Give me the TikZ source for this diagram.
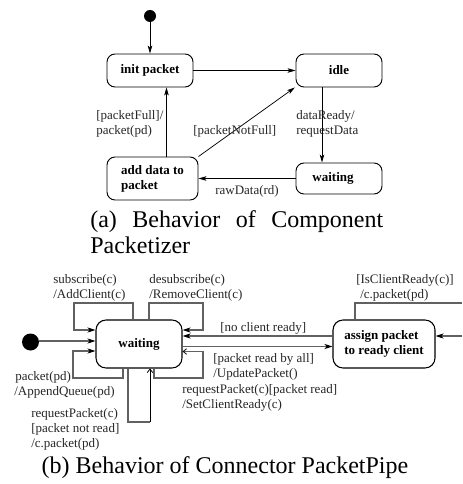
\documentclass[tikz,border=0pt]{standalone}
\usepackage{fontspec}
\setmainfont{Liberation Serif}
\usetikzlibrary{arrows.meta}
\newcommand\lblfont{\fontsize{9.75}{11.25}\selectfont}
\newcommand\capfont{\fontsize{18}{18.75}\selectfont}
\begin{document}
\begin{tikzpicture}[x=0.75pt,y=-0.75pt,
  statebox/.style={draw=black, line width=0.7pt, rounded corners=6pt,
    font=\lblfont\bfseries, inner sep=0pt, align=left},
  % multi-line labels are placed by the baseline of their last line
  lbl/.style={font=\lblfont, text=black!85, inner sep=0pt, anchor=base west, align=left},
  initdot/.style={circle, fill=black, inner sep=0pt},
  tarr/.style={draw=black, line width=0.55pt,
    -{Stealth[length=6pt,width=3.4pt,inset=1.6pt]}},
  barr/.style={draw=black!62, line width=0.9pt,
    -{Stealth[length=6pt,width=3.8pt,inset=1.6pt,black]}},
  bline/.style={draw=black!62, line width=0.9pt},
  oarr/.style={draw=black!62, line width=0.9pt,
    -{Straight Barb[length=2.6pt,width=4.2pt,black,line width=0.6pt]}}]
\useasboundingbox (0,0) rectangle (462,484);

% ---------- (a) component Packetizer ----------
\node[initdot, minimum size=9pt] (startA) at (150,16) {};
\node[statebox, minimum width=64.5pt, minimum height=24.75pt] (init) at (150,70.5) {init packet};
\node[statebox, minimum width=64.5pt, minimum height=24.75pt] (idle) at (339,70.5) {idle};
\node[statebox, minimum width=64.5pt, minimum height=23.25pt] (waitA) at (339,178.5) {waiting\hspace{9pt}};
\node[statebox, minimum width=68.25pt, minimum height=32.25pt] (add) at (152.5,178.5) {add data to\\packet};

\coordinate (xIdle) at (322,0);
\coordinate (xAdd) at (166.5,0);

\draw[tarr] (startA) -- (init);
\draw[tarr] (init) -- (idle);
\draw[tarr] (idle.south -| xIdle) -- (waitA.north -| xIdle);
\draw[tarr] (waitA) -- (add);
\draw[tarr] (add.north -| xAdd) -- (init.south -| xAdd);
\draw[tarr] (add.north east) -- ([xshift=-0.5pt]idle.south west);

\node[lbl] (lFull) at (96,135) {[packetFull]/\\packet(pd)};
\node[lbl] (lNotFull) at (193,135) {[packetNotFull]};
\node[lbl] (lReady) at (296,135) {dataReady/\\requestData};
\node[lbl] (lRaw) at (215,195) {rawData(rd)};

\node[font=\capfont, anchor=base west, inner sep=0pt] (capA1) at (90,228)
  {\makebox[219.75pt][s]{(a) Behavior of Component}};
\node[font=\capfont, anchor=base west, inner sep=0pt] (capA2) at (90,253) {Packetizer};

% ---------- (b) connector PacketPipe ----------
\node[initdot, minimum size=12.75pt] (startB) at (30.5,342) {};
\node[statebox, line width=0.8pt, rounded corners=7.5pt, minimum width=64.5pt, minimum height=36pt] (wt) at (139,344) {waiting};
\node[statebox, line width=0.8pt, rounded corners=7.5pt, minimum width=76.5pt, minimum height=36pt] (as) at (384,344) {assign packet\\to ready client};

% entry from the initial state
\coordinate (yStart) at (0,341);
\draw[barr] (startB.east |- yStart) -- (wt.west |- yStart);

% subscribe loop (upper left)
\coordinate (sA) at (133,303);
\coordinate (sB) at (74,330);
\draw[barr] (wt.north -| sA) -- (sA) -- (sB |- sA) -- (sB) -- (sB -| wt.west);

% packet loop (lower left)
\coordinate (pA) at (123,378);
\coordinate (pB) at (73,351);
\draw[barr] (wt.south -| pA) -- (pA) -- (pB |- pA) -- (pB) -- (pB -| wt.west);

% request not read loop (below)
\coordinate (qA) at (128,422);
\coordinate (qB) at (150,422);
\draw[bline] (wt.south -| qA) -- (qA) -- (qB);
\draw[draw=black, line width=0.5pt, -{Straight Barb[length=2.6pt,width=4.2pt,line width=0.6pt]}] (qB) -- (wt.south -| qB);

% desubscribe loop (upper right)
\coordinate (dA) at (149,303);
\coordinate (dB) at (203,330);
\draw[barr] (wt.north -| dA) -- (dA) -- (dB |- dA) -- (dB) -- (dB -| wt.east);

% packet read loop (lower right)
\coordinate (rA) at (154,378);
\coordinate (rB) at (203,351.5);
\draw[oarr] (wt.south -| rA) -- (rA) -- (rB |- rA) -- (rB) -- (rB -| wt.east);

% transitions between the two states
\coordinate (yNo) at (0,336);
\coordinate (yGo) at (0,346.5);
\draw[barr, line width=1.2pt] (as.west |- yNo) -- (wt.east |- yNo);
\draw[barr] (wt.east |- yGo) -- (as.west |- yGo);

% self transition of the assign state
\coordinate (aA) at (355,303);
\coordinate (aB) at (462,336);
\draw[bline] (as.north -| aA) -- (aA) -- (aB |- aA);
\draw[barr] (aB) -- (aB -| as.east);

\node[lbl] (lSub) at (53,298) {subscribe(c)\\/AddClient(c)};
\node[lbl] (lDesub) at (149,298) {desubscribe(c)\\/RemoveClient(c)};
\node[lbl] (lIsReady) at (356,298) {[IsClientReady(c)]\\\hspace{3pt}/c.packet(pd)};
\node[lbl] (lNoClient) at (220,331) {[no client ready]};
\node[lbl] (lAppend) at (14,395) {\hspace{0.8pt}packet(pd)\\/AppendQueue(pd)};
\node[lbl] (lAll) at (213,377) {[packet read by all]\\/UpdatePacket()};
\node[lbl] (lRead) at (182,408) {requestPacket(c)[packet read]\\/SetClientReady(c)};
\node[lbl] (lNotRead) at (31,447) {requestPacket(c)\\{[packet not read]}\\/c.packet(pd)};

\node[font=\capfont, anchor=base, inner sep=0pt] (capB) at (225,473) {(b) Behavior of Connector PacketPipe};
\end{tikzpicture}
\end{document}
